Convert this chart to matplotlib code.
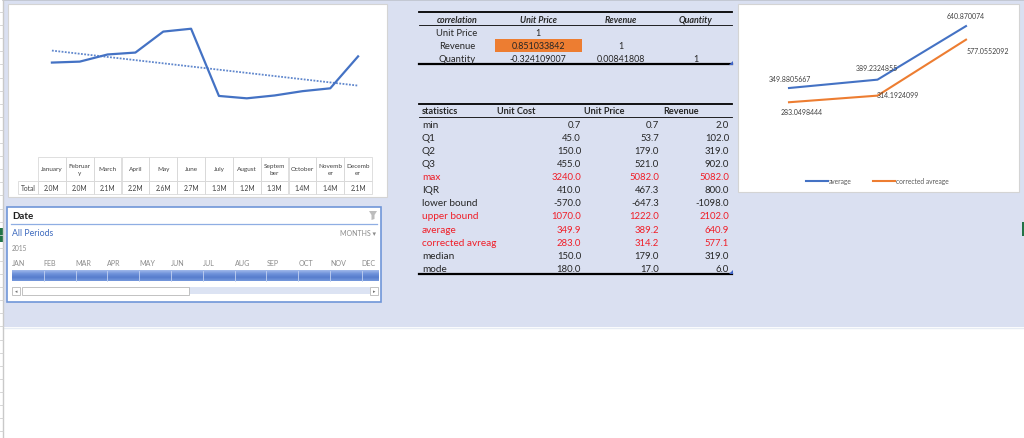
import numpy as np
import matplotlib
matplotlib.use("Agg")
import matplotlib.pyplot as plt
from matplotlib.patches import Rectangle, Polygon
from matplotlib.colors import LinearSegmentedColormap

plt.rcParams['font.family'] = ['Lato', 'DejaVu Sans']

# monthly totals (millions) for the left line chart
months = ["January", "February", "March", "April", "May", "June", "July",
          "August", "September", "October", "November", "December"]
months_wrapped = ["January", "Februar\ny", "March", "April", "May", "June", "July",
                  "August", "Septem\nber", "October", "Novemb\ner", "Decemb\ner"]
monthly_total = [1.96, 1.98, 2.13, 2.17, 2.61, 2.67, 1.26, 1.21, 1.27, 1.36, 1.42, 2.09]

# correlation table
corr_cols = ["correlation", "Unit Price", "Revenue", "Quantity"]
corr_rows = ["Unit Price", "Revenue", "Quantity"]
corr_vals = [["1", "", ""],
             ["0.851033842", "1", ""],
             ["-0.324109007", "0.00841808", "1"]]

# statistics table
stat_cols = ["statistics", "Unit Cost", "Unit Price", "Revenue"]
stat_names = ["min", "Q1", "Q2", "Q3", "max", "IQR", "lower bound", "upper bound",
              "average", "corrected avreag", "median", "mode"]
unit_cost = [0.7, 45.0, 150.0, 455.0, 3240.0, 410.0, -570.0, 1070.0, 349.9, 283.0, 150.0, 180.0]
unit_price = [0.7, 53.7, 179.0, 521.0, 5082.0, 467.3, -647.3, 1222.0, 389.2, 314.2, 179.0, 17.0]
revenue = [2.0, 102.0, 319.0, 902.0, 5082.0, 800.0, -1098.0, 2102.0, 640.9, 577.1, 319.0, 6.0]
red_rows = ["max", "upper bound", "average", "corrected avreag"]

# average vs corrected average chart
avg_series = [349.8805667, 389.2324855, 640.870074]
corrected_series = [283.0498444, 314.1924099, 577.0552092]
avg_labels = ["349.8805667", "389.2324855", "640.870074"]
corrected_labels = ["283.0498444", "314.1924099", "577.0552092"]

# timeline slicer
slicer_months = ["JAN", "FEB", "MAR", "APR", "MAY", "JUN", "JUL", "AUG", "SEP", "OCT", "NOV", "DEC"]

W, H = 1024, 439
BLUE = "#4472C4"
ORANGE = "#ED7D31"
TXT = "#262626"

fig = plt.figure(figsize=(W / 100, H / 100), dpi=100)
fig.patch.set_facecolor("white")

# background canvas in pixel coordinates
bg = fig.add_axes([0, 0, 1, 1])
bg.set_xlim(0, W)
bg.set_ylim(H, 0)
bg.axis("off")

bg.add_patch(Rectangle((3, 0), W - 3, 328, facecolor="#DAE0F1", edgecolor="none"))
bg.plot([3, W], [0.5, 0.5], color="#BFC4CE", lw=1.2)
bg.plot([3, W], [328.5, 328.5], color="#E6ECF4", lw=1)
bg.plot([2.5, 2.5], [0, H], color="#C9C9C9", lw=1)
for yy in np.arange(13, H, 13.1):
    bg.plot([0, 2.5], [yy, yy], color="#D0D0D0", lw=0.6)
bg.add_patch(Rectangle((0, 229), 2.5, 14, facecolor="#217346", edgecolor="none"))
bg.add_patch(Rectangle((1021.5, 223), 2.5, 14, facecolor="#217346", edgecolor="none"))

# white chart panels
bg.add_patch(Rectangle((8, 5), 379, 193, facecolor="white", edgecolor="#D4D4D4", lw=0.8))
bg.add_patch(Rectangle((738, 5), 281, 188, facecolor="white", edgecolor="#D4D4D4", lw=0.8))

# ---- left line chart ----
x_left, x_right, y_top, y_bot = 38, 372, 14, 157
ax1 = fig.add_axes([x_left / W, (H - y_bot) / H, (x_right - x_left) / W, (y_bot - y_top) / H])
ax1.patch.set_alpha(0)
idx = np.arange(len(months))
ax1.plot(idx, monthly_total, color=BLUE, lw=1.6, solid_joinstyle="round")
k, b = np.polyfit(idx, monthly_total, 1)
ax1.plot(idx, k * idx + b, color=BLUE, lw=1.3, ls=(0, (1, 0.8)), alpha=0.85)
ax1.set_xlim(-0.5, len(months) - 0.5)
ax1.set_ylim(0, 3)
ax1.axis("off")

# data table under the left chart
cw = (x_right - x_left) / len(months)
grid = "#D9D9D9"
for j, (lab, v) in enumerate(zip(months_wrapped, monthly_total)):
    cx = x_left + j * cw
    bg.add_patch(Rectangle((cx, 158), cw, 24, facecolor="none", edgecolor=grid, lw=0.6))
    bg.add_patch(Rectangle((cx, 182), cw, 13, facecolor="none", edgecolor=grid, lw=0.6))
    bg.text(cx + cw / 2, 170, lab, ha="center", va="center", fontsize=4.6,
            color="#404040", linespacing=1.3)
    bg.text(cx + cw / 2, 188.5, f"{v:.1f}M", ha="center", va="center", fontsize=4.8, color="#404040")
bg.add_patch(Rectangle((18, 182), x_left - 18, 13, facecolor="none", edgecolor=grid, lw=0.6))
bg.text(28, 188.5, "Total", ha="center", va="center", fontsize=4.8, color="#404040")

# ---- timeline slicer ----
bg.add_patch(Rectangle((7, 208), 374, 95, facecolor="white", edgecolor="#7096D8", lw=1.2))
bg.plot([11, 377], [225, 225], color="#8FAEE3", lw=0.9)
bg.text(12, 216.5, "Date", ha="left", va="center", fontsize=7, fontweight="bold", color="#1F1F1F")
bg.add_patch(Polygon([[369, 212], [377, 212], [374.5, 216], [374.5, 220], [371.5, 221], [371.5, 216]],
                     closed=True, facecolor="#BDBDBD", edgecolor="none"))
bg.text(12, 234, "All Periods", ha="left", va="center", fontsize=6.3, color="#3F6BBF")
bg.text(376, 234, "MONTHS \u25be", ha="right", va="center", fontsize=5, color="#8C8C8C")
bg.text(12, 249, "2015", ha="left", va="center", fontsize=4.8, color="#8C8C8C")
mw = 31.8
grad = np.linspace(0, 1, 30).reshape(-1, 1)
cmap = LinearSegmentedColormap.from_list("bar", ["#9FB8EA", "#6F92DA", "#577DCD", "#7598DC"])
bg.imshow(grad, cmap=cmap, aspect="auto", extent=(12, 379, 282, 271.5), zorder=2)
for i, m in enumerate(slicer_months):
    mx = 12 + i * mw
    bg.text(mx, 263.5, m, ha="left", va="center", fontsize=5.1, color="#8C8C8C")
    if i > 0:
        bg.plot([mx, mx], [271.5, 282], color="#C3D2F1", lw=0.6, zorder=3)
bg.add_patch(Rectangle((189, 288), 181, 7, facecolor="#DCE3F3", edgecolor="none"))
bg.add_patch(Rectangle((22, 287.5), 167, 8, facecolor="white", edgecolor="#B8B8B8", lw=0.6))
bg.add_patch(Rectangle((12, 287.5), 8, 8, facecolor="white", edgecolor="#B8B8B8", lw=0.6))
bg.add_patch(Rectangle((370, 287.5), 8, 8, facecolor="white", edgecolor="#B8B8B8", lw=0.6))
bg.text(16, 291.5, "\u25c2", ha="center", va="center", fontsize=3.5, color="#707070")
bg.text(374, 291.5, "\u25b8", ha="center", va="center", fontsize=3.5, color="#707070")

# ---- correlation table ----
tx0, tx1 = 419, 732
corr_x = [457, 538, 621, 696]
bg.plot([tx0, tx1], [13, 13], color="black", lw=1.3)
bg.plot([tx0, tx1], [26, 26], color="black", lw=0.6)
bg.plot([tx0, tx1], [65, 65], color="black", lw=1.6)
for cx, c in zip(corr_x, corr_cols):
    bg.text(cx, 20.5, c, ha="center", va="center", fontsize=6.4, fontweight="bold",
            fontstyle="italic", color=TXT)
bg.add_patch(Rectangle((495, 39.5), 87, 13, facecolor=ORANGE, edgecolor="none"))
corr_y = [33.5, 46.5, 59.5]
for ry, rname, rvals in zip(corr_y, corr_rows, corr_vals):
    bg.text(corr_x[0], ry, rname, ha="center", va="center", fontsize=6.8, color=TXT)
    for cx, val in zip(corr_x[1:], rvals):
        bg.text(cx, ry, val, ha="center", va="center", fontsize=6.4, color=TXT)
# table resize handles
for hy in (64.5, 274):
    bg.add_patch(Polygon([[729, hy + 1], [733, hy + 1], [733, hy - 3]], closed=True,
                         facecolor="#3F64C8", edgecolor="none", zorder=4))

# ---- statistics table ----
bg.plot([tx0, tx1], [105, 105], color="black", lw=1.3)
bg.plot([tx0, tx1], [117.5, 117.5], color="black", lw=0.6)
bg.plot([tx0, tx1], [274.5, 274.5], color="black", lw=1.6)
bg.text(422, 111.5, stat_cols[0], ha="left", va="center", fontsize=6.6, fontweight="bold", color=TXT)
for cx, c in zip([516, 604, 681], stat_cols[1:]):
    bg.text(cx, 111.5, c, ha="center", va="center", fontsize=6.6, fontweight="bold", color=TXT)
val_x = [581, 659, 729]
for i, name in enumerate(stat_names):
    ry = 125.3 + i * 13.1
    col = "#F01E28" if name in red_rows else TXT
    bg.text(422, ry, name, ha="left", va="center", fontsize=7.2, color=col)
    for vx, series in zip(val_x, [unit_cost, unit_price, revenue]):
        bg.text(vx, ry, f"{series[i]:.1f}", ha="right", va="center", fontsize=6.8, color=col)

# ---- average vs corrected chart ----
r_left, r_right, r_top, r_bot = 744.75, 1010.25, 14.5, 163.5
ax2 = fig.add_axes([r_left / W, (H - r_bot) / H, (r_right - r_left) / W, (r_bot - r_top) / H])
ax2.patch.set_alpha(0)
cats = np.arange(len(avg_series))
ax2.plot(cats, avg_series, color=BLUE, lw=1.5, label="average")
ax2.plot(cats, corrected_series, color=ORANGE, lw=1.5, label="corrected avreage")
ax2.set_xlim(-0.5, len(cats) - 0.5)
ax2.set_ylim(0, 700)
ax2.axis("off")
avg_off = [(1, 10), (-1, 12), (0, 11)]
cor_off = [(13, -9), (20, 1), (22, -11)]
for c, v, lab, off in zip(cats, avg_series, avg_labels, avg_off):
    ax2.annotate(lab, (c, v), xytext=off, textcoords="offset pixels", ha="center",
                 va="center", fontsize=5, color="#404040", annotation_clip=False)
for c, v, lab, off in zip(cats, corrected_series, corrected_labels, cor_off):
    ax2.annotate(lab, (c, v), xytext=off, textcoords="offset pixels", ha="center",
                 va="center", fontsize=5, color="#404040", annotation_clip=False)
leg = ax2.legend(loc="center", bbox_to_anchor=(0.5, -0.12), ncol=2, frameon=False,
                 fontsize=4.8, handlelength=3.3, handletextpad=0.1, columnspacing=3.2)
for t in leg.get_texts():
    t.set_color("#595959")

fig.savefig("out.png", dpi=100, facecolor="white")
